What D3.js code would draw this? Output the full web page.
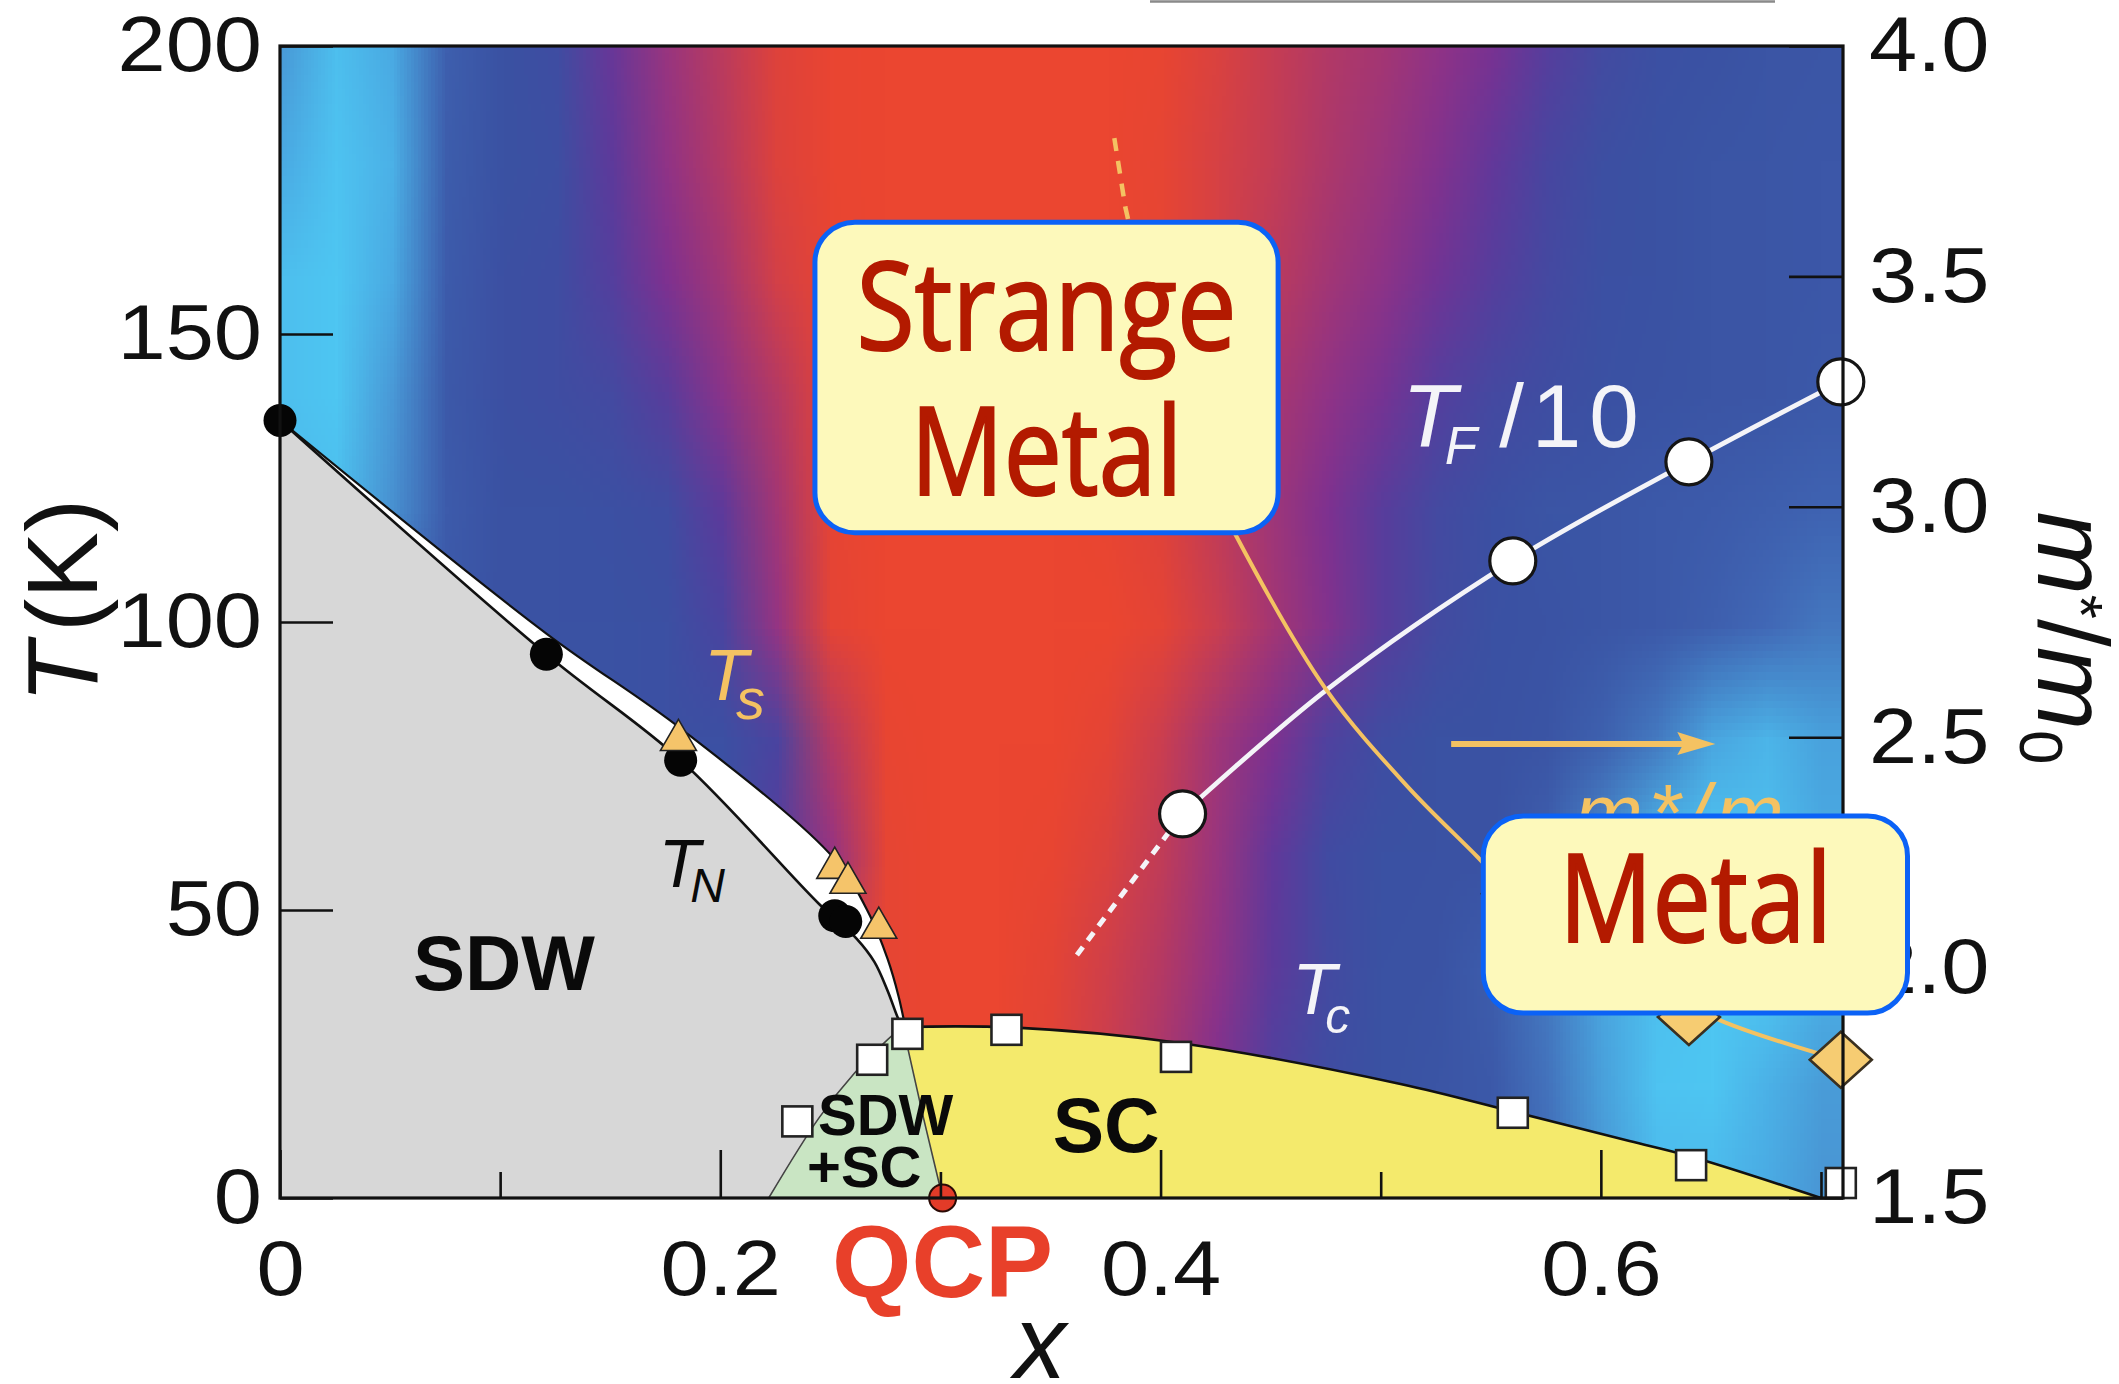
<!DOCTYPE html>
<html>
<head>
<meta charset="utf-8">
<title>BaFe2(As1-xPx)2 phase diagram</title>
<script src="https://cdn.jsdelivr.net/npm/d3@7/dist/d3.min.js"></script>
<style>
  html, body { margin: 0; padding: 0; background: #ffffff; }
  svg { display: block; }
</style>
</head>
<body>
<svg id="chart" width="2119" height="1384"></svg>
<script>
// ---------------------------------------------------------------
// Resistivity exponent map (columns: doping x, rows: temperature K)
// ---------------------------------------------------------------
const mapX = [0, 0.025, 0.05, 0.075, 0.1, 0.125, 0.15, 0.175, 0.2, 0.225, 0.25, 0.275, 0.3, 0.325,
              0.35, 0.375, 0.4, 0.425, 0.45, 0.475, 0.5, 0.525, 0.55, 0.575, 0.6, 0.625, 0.65, 0.675, 0.7];
const mapT = [200, 180, 160, 140, 120, 100, 80, 60, 40, 20, 0];
const exponentMap = [
  [2.32,2.55,2.40,2.05,1.95,1.90,1.68,1.48,1.32,1.12,1.02,1.00,1.00,1.00,1.00,1.00,1.03,1.15,1.27,1.36,1.42,1.52,1.62,1.75,1.87,1.93,1.95,1.97,1.98],
  [2.40,2.58,2.45,2.03,1.95,1.92,1.72,1.52,1.35,1.13,1.02,1.00,1.00,1.00,1.00,1.00,1.05,1.18,1.28,1.38,1.47,1.58,1.70,1.82,1.92,1.95,1.97,1.98,1.99],
  [2.55,2.60,2.40,2.02,1.93,1.90,1.76,1.60,1.43,1.20,1.03,1.00,1.00,1.00,1.00,1.00,1.03,1.18,1.32,1.43,1.53,1.65,1.75,1.85,1.93,1.95,1.97,1.98,1.99],
  [2.55,2.60,2.32,2.00,1.93,1.90,1.86,1.74,1.55,1.35,1.06,1.00,1.00,1.00,1.00,1.00,1.05,1.20,1.40,1.52,1.63,1.76,1.85,1.90,1.94,1.96,1.97,1.98,2.00],
  [2.50,2.55,2.28,2.02,1.95,1.95,1.93,1.90,1.72,1.43,1.05,1.00,1.00,1.00,1.00,1.03,1.12,1.30,1.45,1.60,1.74,1.86,1.93,1.97,1.98,2.00,2.02,2.05,2.08],
  [2.30,2.30,2.10,2.00,1.95,1.95,1.95,1.93,1.80,1.50,1.06,1.00,1.00,1.00,1.00,1.00,1.07,1.25,1.42,1.58,1.74,1.87,1.94,1.96,1.98,2.00,2.05,2.11,2.17],
  [2.30,2.20,2.05,1.95,1.95,1.95,1.95,1.93,1.93,1.80,1.35,1.03,1.00,1.00,1.00,1.07,1.25,1.44,1.60,1.78,1.90,1.95,1.95,1.97,2.06,2.18,2.38,2.48,2.36],
  [2.20,2.10,2.00,1.95,1.95,1.95,1.95,1.95,1.95,1.75,1.50,1.05,1.00,1.00,1.03,1.14,1.30,1.48,1.70,1.88,1.94,1.95,1.95,2.05,2.25,2.52,2.60,2.55,2.40],
  [2.20,2.10,2.00,1.95,1.95,1.95,1.95,1.95,1.90,1.60,1.25,1.05,1.00,1.00,1.08,1.22,1.35,1.52,1.72,1.86,1.95,1.96,2.03,2.18,2.38,2.55,2.60,2.60,2.45],
  [2.20,2.10,2.00,1.95,1.95,1.95,1.95,1.95,1.90,1.60,1.20,1.05,1.00,1.00,1.10,1.25,1.40,1.60,1.78,1.90,1.95,1.97,2.00,2.15,2.35,2.58,2.60,2.45,2.33],
  [2.20,2.10,2.00,1.95,1.95,1.95,1.95,1.95,1.90,1.60,1.20,1.05,1.00,1.00,1.10,1.25,1.40,1.60,1.78,1.90,1.95,1.97,2.00,2.12,2.30,2.50,2.50,2.40,2.30]
];
// exponent -> colour
const rampN      = [1.0, 1.1, 1.2, 1.3, 1.4, 1.5, 1.6, 1.7, 1.8, 1.95, 2.1, 2.25, 2.4, 2.6];
const rampColors = ["#eb4630","#e14338","#d34047","#c03c58","#a8376f","#943483","#7e3190",
                    "#62389a","#4a44a0","#3a52a3","#4066b4","#488bcc","#4aaae3","#4ec6f2"];

// ---------------------------------------------------------------
// Phase boundaries (x, T in K)
// ---------------------------------------------------------------
const tnLine      = [[0,135],[0.121,94.4],[0.182,76],[0.245,51],[0.262,45],[0.270,41],[0.276,36],[0.281,31],[0.283,29.7]];
const tsLine      = [[0,135],[0.121,98],[0.182,81.5],[0.252,58.8],[0.268,49],[0.276,41.5],[0.281,35],[0.284,29.7]];
const sdwScEdge   = [[0.283,29.7],[0.276,27.5],[0.261,21.7],[0.245,14],[0.222,0]];
const scRightEdge = [[0.283,29.7],[0.292,14.4],[0.301,0]];
const tcLine      = [[0.283,29.7],[0.333,29.6],[0.407,27],[0.509,19.8],[0.56,15],[0.613,9.9],[0.64,7.3],[0.70,0]];

// Measured transition temperatures
const tnPoints = [[0,135],[0.121,94.4],[0.182,76],[0.252,49],[0.257,48]];
const tsPoints = [[0.181,79.5],[0.252,57.3],[0.258,54.7],[0.272,46.9]];
const tcPoints = [[0.235,13.3],[0.269,24],[0.285,28.5],[0.33,29.2],[0.407,24.5],[0.56,14.8],[0.641,5.7],[0.709,2.6]];
const qcp = [0.301, 0];

// Fermi temperature / 10 (K)
const tfPoints = [[0.41,66.7],[0.56,110.6],[0.64,127.8],[0.709,141.7]];
const tfFit    = [[0.41,66.7],[0.476,88.4],[0.56,110.6],[0.64,127.8],[0.709,141.7]];
const tfExtrap = [[0.362,42.2],[0.41,66.7]];

// Effective mass m*/m0 (right axis)
const massPoints    = [[0.41,3.18],[0.56,2.16],[0.64,1.893],[0.709,1.80]];
const massFit       = [[0.395,3.42],[0.41,3.18],[0.434,2.94],[0.475,2.605],[0.512,2.394],[0.544,2.24],[0.56,2.16],[0.60,2.02],[0.655,1.884],[0.709,1.80]];
const massFitDashed = [[0.379,3.80],[0.384,3.65],[0.395,3.42]];
const massArrow     = [0.532, 0.652, 78.8];   // x from, x to, at T

// Axes
const tTicks  = [0, 50, 100, 150, 200];
const mTicks  = [1.5, 2.0, 2.5, 3.0, 3.5, 4.0];
const xMajor  = [0, 0.2, 0.4, 0.6];
const xMinor  = [0.1, 0.3, 0.5, 0.7];

// ---------------------------------------------------------------
const svg = d3.select("#chart");
const x  = d3.scaleLinear().domain([0, 0.71]).range([280, 1843]);
const yT = d3.scaleLinear().domain([0, 200]).range([1198, 46]);
const yM = d3.scaleLinear().domain([1.5, 4.0]).range([1198, 46]);
const ramp = d3.scaleLinear().domain(rampN).range(rampColors).clamp(true);

const SANS = "'Liberation Sans', Arial, Helvetica, sans-serif";
const BOX_FONT = "'Open Sans', 'Noto Sans', sans-serif";
const ORANGE = "#f4c262";

svg.append("defs").append("clipPath").attr("id", "plotClip")
  .append("rect").attr("x", x(0)).attr("y", yT(200))
  .attr("width", x(0.71) - x(0)).attr("height", yT(0) - yT(200));

// decorative rule at the very top
svg.append("line").attr("x1", 1150).attr("x2", 1775).attr("y1", 1.5).attr("y2", 1.5)
  .attr("stroke", "#8a8a8a").attr("stroke-width", 2.5);

// ---- exponent map as a smoothly scaled image ----
(function drawMap() {
  const nx = mapX.length, ny = mapT.length;
  const cv = document.createElement("canvas");
  cv.width = nx; cv.height = ny;
  const ctx = cv.getContext("2d");
  const im = ctx.createImageData(nx, ny);
  exponentMap.forEach((row, j) => row.forEach((v, i) => {
    const c = d3.rgb(ramp(v));
    const k = 4 * (j * nx + i);
    im.data[k] = c.r; im.data[k + 1] = c.g; im.data[k + 2] = c.b; im.data[k + 3] = 255;
  }));
  ctx.putImageData(im, 0, 0);
  const hx = (mapX[1] - mapX[0]) / 2, hT = (mapT[0] - mapT[1]) / 2;
  svg.append("g").attr("clip-path", "url(#plotClip)")
    .append("image")
    .attr("href", cv.toDataURL())
    .attr("x", x(mapX[0] - hx))
    .attr("y", yT(mapT[0] + hT))
    .attr("width", x(mapX[nx - 1] + hx) - x(mapX[0] - hx))
    .attr("height", yT(mapT[ny - 1] - hT) - yT(mapT[0] + hT))
    .attr("preserveAspectRatio", "none");
})();

// ---- helpers ----
const pathOf = (pts, curve, ys = yT) =>
  d3.line().x(d => x(d[0])).y(d => ys(d[1])).curve(curve || d3.curveLinear)(pts);
const cont = (pts, curve) => "L" + pathOf(pts, curve).slice(1);
const rev = pts => pts.slice().reverse();
const CR = d3.curveCatmullRom.alpha(0.5);

const phases = svg.append("g").attr("clip-path", "url(#plotClip)");

// SDW region
phases.append("path")
  .attr("d", "M" + x(0) + "," + yT(0) + cont(tnLine, CR) + cont(sdwScEdge, CR) + "Z")
  .attr("fill", "#d7d7d7");
// SC region
phases.append("path")
  .attr("d", pathOf(tcLine, CR) + cont(rev(scRightEdge)) + "Z")
  .attr("fill", "#f4ea6c");
// coexistence region
phases.append("path")
  .attr("d", pathOf(rev(sdwScEdge), CR) + cont(scRightEdge) + "Z")
  .attr("fill", "#c9e5c3");
// thin inner boundaries
phases.append("path").attr("d", pathOf(sdwScEdge, CR)).attr("fill", "none")
  .attr("stroke", "#444").attr("stroke-width", 1.6);
phases.append("path").attr("d", pathOf(scRightEdge)).attr("fill", "none")
  .attr("stroke", "#444").attr("stroke-width", 1.6);
// Tc dome
phases.append("path").attr("d", pathOf(tcLine, CR)).attr("fill", "none")
  .attr("stroke", "#111").attr("stroke-width", 2.6);
// structural / magnetic band
phases.append("path")
  .attr("d", pathOf(tsLine, CR) + cont(rev(tnLine), CR) + "Z")
  .attr("fill", "#ffffff");
phases.append("path").attr("d", pathOf(tnLine, CR)).attr("fill", "none")
  .attr("stroke", "#111").attr("stroke-width", 2.6);
phases.append("path").attr("d", pathOf(tsLine, CR)).attr("fill", "none")
  .attr("stroke", "#111").attr("stroke-width", 2.2);

// ---- Fermi temperature curve ----
phases.append("path").attr("d", pathOf(tfFit, d3.curveCatmullRom)).attr("fill", "none")
  .attr("stroke", "#f4f4f8").attr("stroke-width", 4.8);
phases.append("path").attr("d", pathOf(tfExtrap)).attr("fill", "none")
  .attr("stroke", "#f4f4f8").attr("stroke-width", 5).attr("stroke-dasharray", "10 8");

// ---- effective mass curve ----
phases.append("path").attr("d", pathOf(massFit, d3.curveCatmullRom, yM)).attr("fill", "none")
  .attr("stroke", ORANGE).attr("stroke-width", 4);
phases.append("path").attr("d", pathOf(massFitDashed, d3.curveLinear, yM)).attr("fill", "none")
  .attr("stroke", ORANGE).attr("stroke-width", 4.5).attr("stroke-dasharray", "13 10");

// arrow pointing to the right axis
{
  const [xa, xb, ta] = massArrow;
  const yy = yT(ta);
  phases.append("line").attr("x1", x(xa)).attr("x2", x(xb) - 20).attr("y1", yy).attr("y2", yy)
    .attr("stroke", ORANGE).attr("stroke-width", 6);
  phases.append("path")
    .attr("d", `M${x(xb)},${yy} L${x(xb) - 38},${yy - 12} L${x(xb) - 32},${yy} L${x(xb) - 38},${yy + 11} Z`)
    .attr("fill", ORANGE);
}
// m*/m label (largely covered by the Metal box)
svg.append("text").attr("x", x(0.588)).attr("y", yT(62))
  .attr("font-family", SANS).attr("font-style", "italic").attr("font-size", 82)
  .attr("fill", ORANGE).attr("letter-spacing", 6)
  .text("m*/m");

// ---- markers ----
const marks = svg.append("g");
marks.selectAll(".tn").data(tnPoints).join("circle")
  .attr("cx", d => x(d[0])).attr("cy", d => yT(d[1])).attr("r", 16.5)
  .attr("fill", "#050505");
marks.selectAll(".ts").data(tsPoints).join("path")
  .attr("transform", d => `translate(${x(d[0])},${yT(d[1])})`)
  .attr("d", d3.symbol(d3.symbolTriangle, 560))
  .attr("fill", "#f5c46a").attr("stroke", "#222").attr("stroke-width", 1.6);
marks.selectAll(".tc").data(tcPoints).join("rect")
  .attr("x", d => x(d[0]) - 15).attr("y", d => yT(d[1]) - 15)
  .attr("width", 30).attr("height", 30)
  .attr("fill", "#ffffff").attr("stroke", "#222").attr("stroke-width", 2.6);
marks.selectAll(".mass").data(massPoints).join("path")
  .attr("transform", d => `translate(${x(d[0])},${yM(d[1])})`)
  .attr("d", "M0,-28 L31,0 L0,28 L-31,0 Z")
  .attr("fill", "#f6cc72").attr("stroke", "#3a3020").attr("stroke-width", 2.6);
marks.selectAll(".tf").data(tfPoints).join("circle")
  .attr("cx", d => x(d[0])).attr("cy", d => yT(d[1])).attr("r", 23)
  .attr("fill", "#ffffff").attr("stroke", "#151515").attr("stroke-width", 3.2);
marks.append("circle").attr("cx", x(qcp[0])).attr("cy", yT(qcp[1])).attr("r", 13.5)
  .attr("fill", "#e23b28").attr("stroke", "#2a0a05").attr("stroke-width", 2);

// ---- region and curve labels ----
const lab = svg.append("g").attr("font-family", SANS);
function boldLabel(text, xv, tv, size) {
  lab.append("text").attr("x", x(xv)).attr("y", yT(tv)).attr("font-size", size)
    .attr("font-weight", "bold").attr("fill", "#0a0a0a").text(text);
}
boldLabel("SDW", 0.0604, 36.1, 78);
boldLabel("SC", 0.351, 8, 77);
boldLabel("SDW", 0.2444, 10.9, 58);
boldLabel("+SC", 0.2394, 1.9, 58);

function subLabel(main, sub, xv, tv, size, subSize, color, dx, dy) {
  const t = lab.append("text").attr("x", x(xv)).attr("y", yT(tv)).attr("fill", color)
    .attr("font-style", "italic").attr("font-size", size);
  t.append("tspan").text(main);
  t.append("tspan").attr("font-size", subSize).attr("dx", dx).attr("dy", dy).text(sub);
  return t;
}
subLabel("T", "N", 0.172, 54, 68, 48, "#0a0a0a", -10, 15);
subLabel("T", "s", 0.1926, 86.5, 72, 58, ORANGE, -12, 19);
subLabel("T", "c", 0.4598, 31.9, 72, 50, "#f4f4f8", -11, 19);
{
  const tf = subLabel("T", "F", 0.5098, 130.4, 89, 53, "#f4f4f8", -12, 17);
  tf.append("tspan").attr("x", x(0.5538)).attr("y", yT(130.4)).attr("font-style", "normal")
    .attr("letter-spacing", 8).text("/10");
}

// ---- frame and axes ----
const axisStyle = g => {
  g.attr("font-size", null).attr("font-family", null);
  g.select(".domain").remove();
  g.selectAll(".tick line").attr("stroke", "#111").attr("stroke-width", 2.6);
  g.selectAll(".tick text").attr("fill", "#111").attr("font-family", SANS).attr("font-size", 78)
    .each(function () {
      const w = this.getComputedTextLength();
      if (w > 0) d3.select(this).attr("textLength", w * 1.11).attr("lengthAdjust", "spacingAndGlyphs");
    });
};

svg.append("g").attr("transform", `translate(0,${yT(0)})`)
  .call(d3.axisBottom(x).tickValues(xMajor.concat(xMinor))
    .tickFormat(d => xMajor.includes(d) ? d3.format("~g")(d) : "")
    .tickSizeInner(-48).tickSizeOuter(0).tickPadding(42))
  .call(axisStyle)
  .call(g => g.selectAll(".tick line").attr("y2", d => xMajor.includes(d) ? -48 : -26));

svg.append("g").attr("transform", `translate(${x(0)},0)`)
  .call(d3.axisLeft(yT).tickValues(tTicks).tickSizeInner(-53).tickSizeOuter(0).tickPadding(18))
  .call(axisStyle);

svg.append("g").attr("transform", `translate(${x(0.71)},0)`)
  .call(d3.axisRight(yM).tickValues(mTicks).tickFormat(d3.format(".1f"))
    .tickSizeInner(-54).tickSizeOuter(0).tickPadding(26))
  .call(axisStyle);

svg.append("rect").attr("x", x(0)).attr("y", yT(200))
  .attr("width", x(0.71) - x(0)).attr("height", yT(0) - yT(200))
  .attr("fill", "none").attr("stroke", "#111").attr("stroke-width", 3.2);

// axis titles
{
  const t = svg.append("text").attr("transform", "translate(97,601) rotate(-90)")
    .attr("text-anchor", "middle").attr("font-family", SANS).attr("font-size", 100).attr("fill", "#111");
  t.append("tspan").attr("font-style", "italic").text("T");
  t.append("tspan").attr("dx", 10).text("(K)");

  const m = svg.append("text").attr("transform", "translate(2038,638) rotate(90)")
    .attr("text-anchor", "middle").attr("font-family", SANS).attr("font-size", 100).attr("fill", "#111");
  m.append("tspan").attr("font-style", "italic").text("m");
  m.append("tspan").attr("font-size", 62).attr("dy", -22).text("*");
  m.append("tspan").attr("dy", 22).text("/");
  m.append("tspan").attr("font-style", "italic").text("m");
  m.append("tspan").attr("font-size", 62).attr("dy", 18).text("0");

  svg.append("text").attr("x", 1040).attr("y", 1378).attr("text-anchor", "middle")
    .attr("font-family", SANS).attr("font-style", "italic").attr("font-size", 104)
    .attr("fill", "#111").text("x");

  svg.append("text").attr("x", x(qcp[0])).attr("y", 1297).attr("text-anchor", "middle")
    .attr("font-family", SANS).attr("font-weight", "bold").attr("font-size", 102)
    .attr("fill", "#e8402a").text("QCP");
}

// ---- callout boxes ----
function callout(x0, x1, t0, t1, lines) {
  const g = svg.append("g");
  g.append("rect").attr("x", x(x0)).attr("y", yT(t0))
    .attr("width", x(x1) - x(x0)).attr("height", yT(t1) - yT(t0))
    .attr("rx", 40).attr("ry", 40)
    .attr("fill", "#fdf9bb").attr("stroke", "#0b62f6").attr("stroke-width", 5);
  const cx = (x(x0) + x(x1)) / 2;
  lines.forEach(l => {
    g.append("text").attr("x", cx).attr("y", l.y).attr("text-anchor", "middle")
      .attr("font-family", BOX_FONT).attr("font-size", 123).attr("fill", "#b31a00")
      .attr("stroke", "#b31a00").attr("stroke-width", 2.2)
      .attr("textLength", l.w).attr("lengthAdjust", "spacingAndGlyphs").text(l.text);
  });
}
callout(0.243, 0.4534, 169.4, 115.5, [{ text: "Strange", y: 350, w: 380 }, { text: "Metal", y: 495, w: 272 }]);
callout(0.5466, 0.7393, 66.3, 32.1, [{ text: "Metal", y: 942, w: 273 }]);
</script>
</body>
</html>
